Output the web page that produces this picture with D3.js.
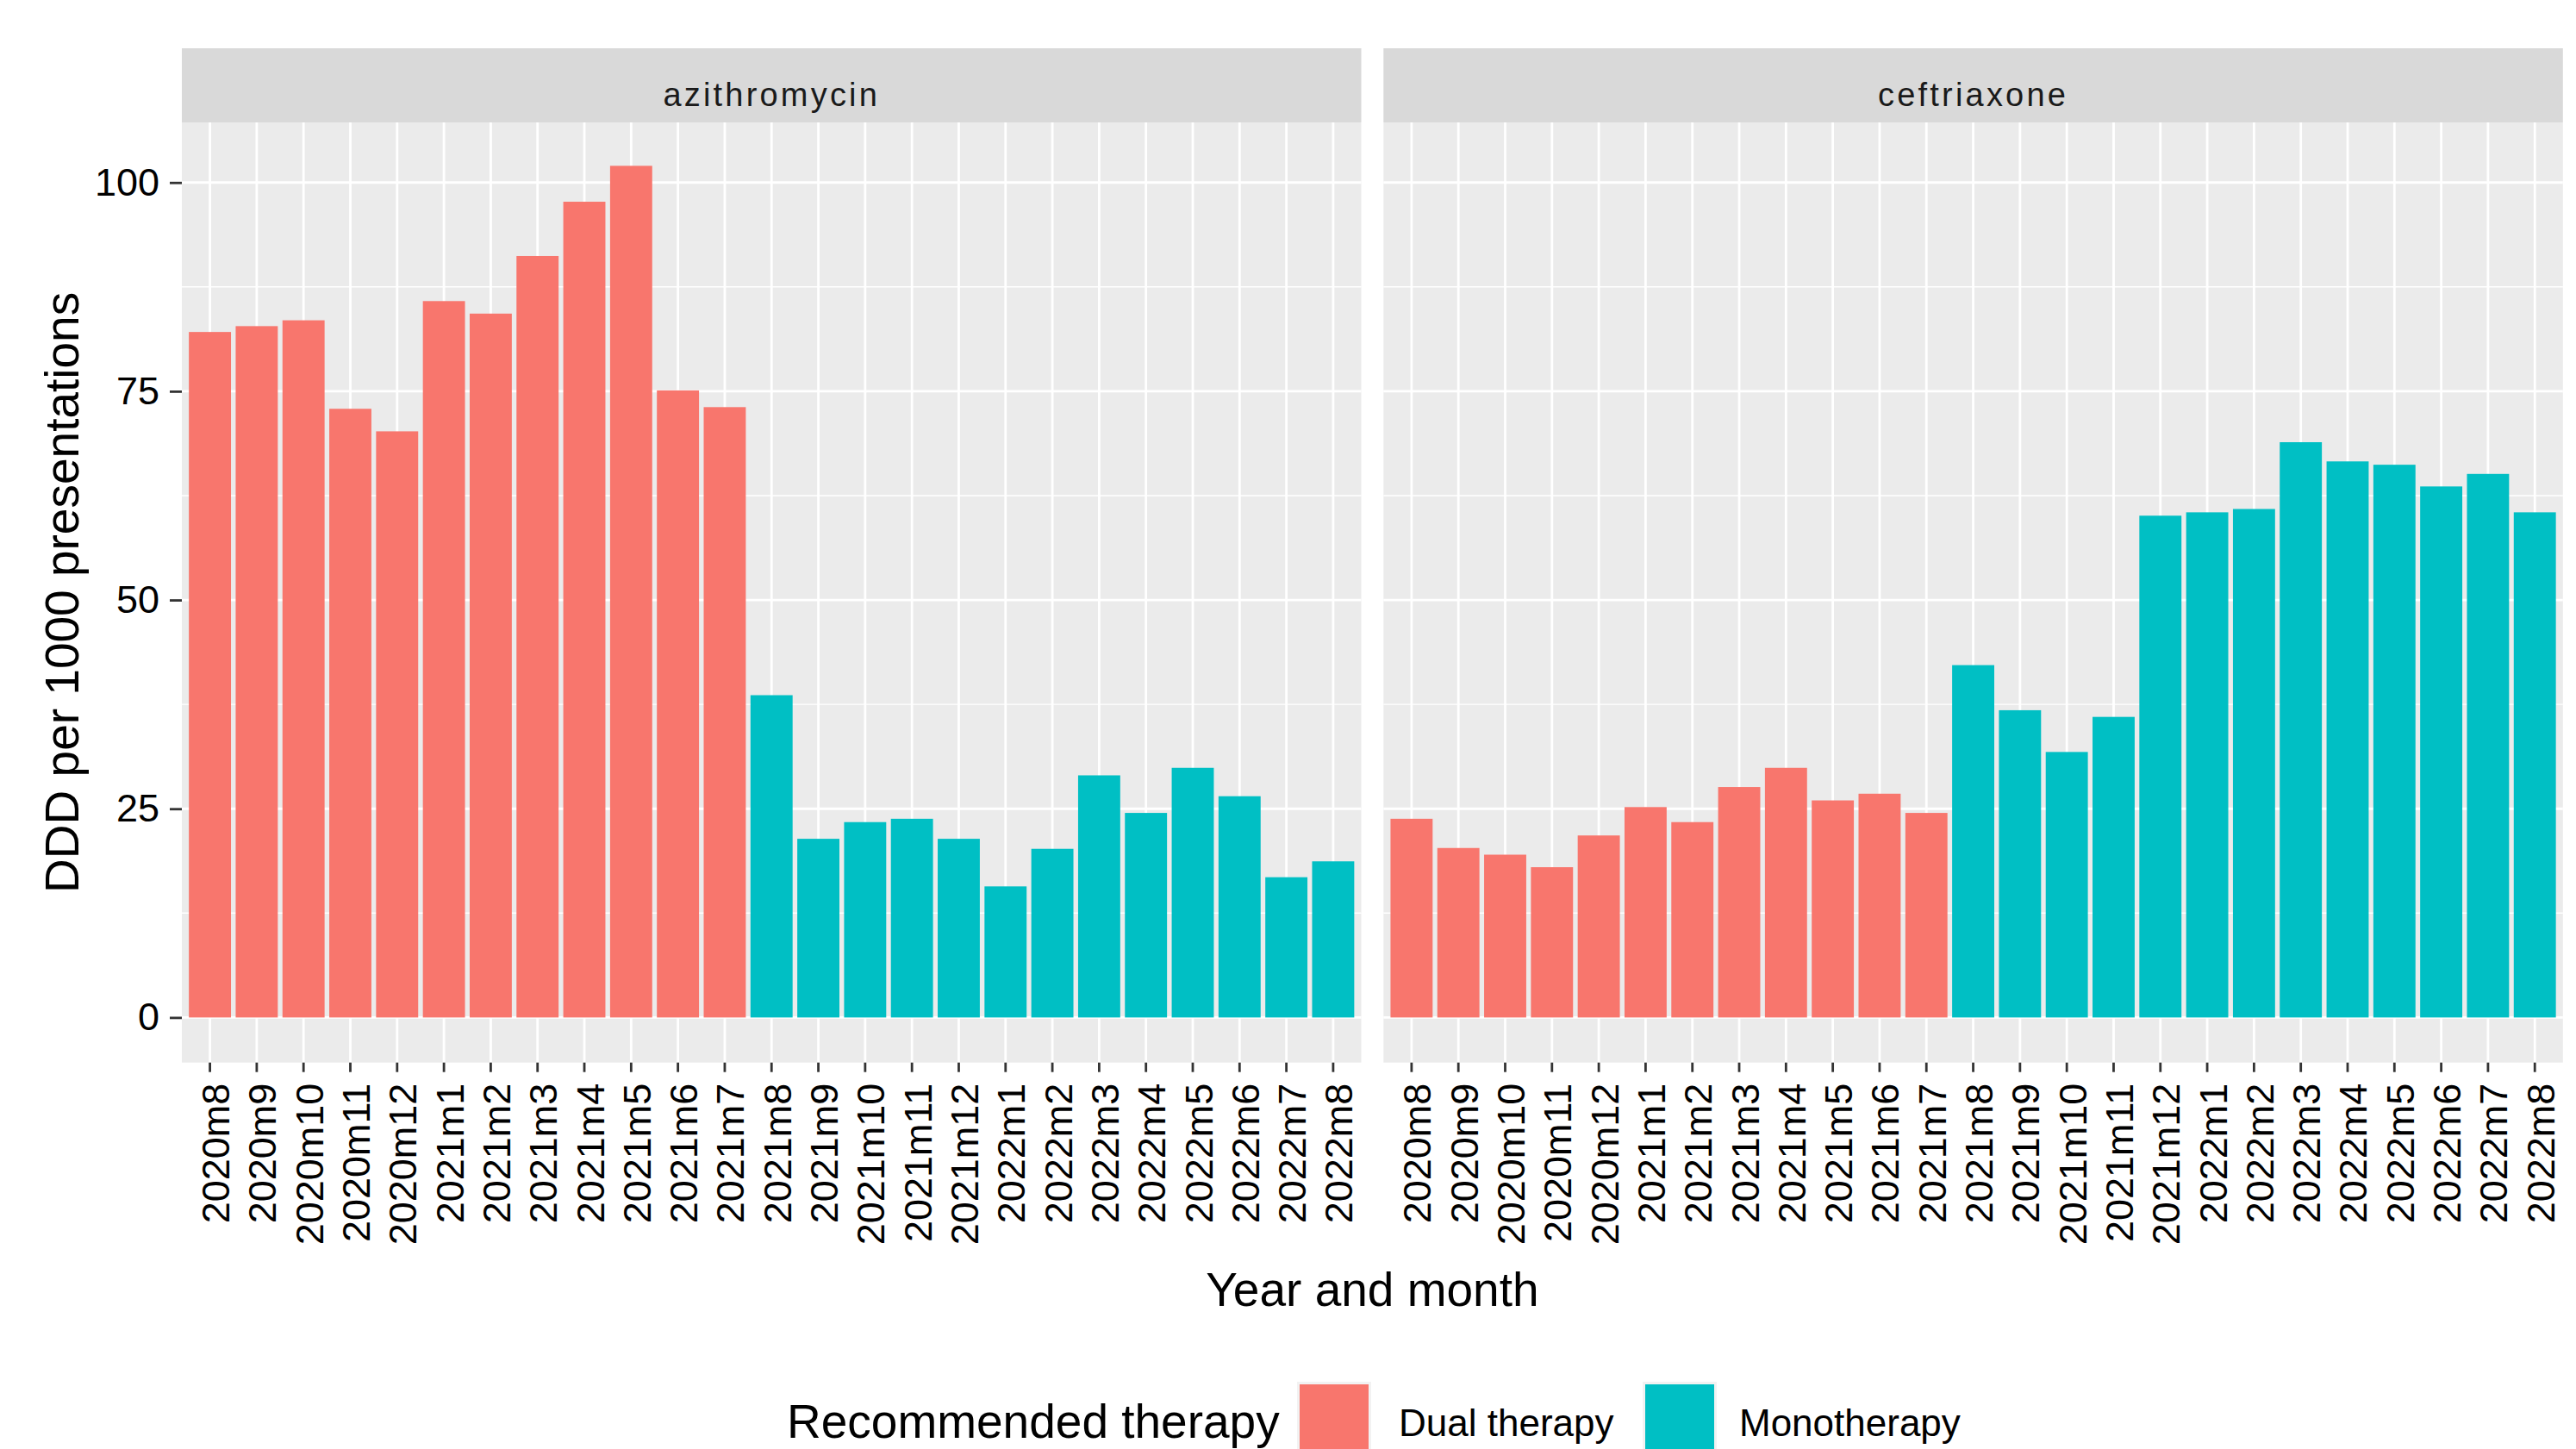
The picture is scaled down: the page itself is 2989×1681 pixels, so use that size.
<!DOCTYPE html>
<html>
<head>
<meta charset="utf-8">
<script src="https://cdn.jsdelivr.net/npm/d3@7"></script>
<style>
  html, body { margin: 0; padding: 0; background: #fff; }
  svg { display: block; }
  text { font-family: "Liberation Sans", Arial, Helvetica, sans-serif; }
</style>
</head>
<body>
<script>
// ---------------- data ----------------
const categories = ["2020m8","2020m9","2020m10","2020m11","2020m12","2021m1","2021m2","2021m3","2021m4","2021m5","2021m6","2021m7","2021m8","2021m9","2021m10","2021m11","2021m12","2022m1","2022m2","2022m3","2022m4","2022m5","2022m6","2022m7","2022m8"];
const panels = ["azithromycin", "ceftriaxone"];
const azithromycinValues = [82.1, 82.8, 83.5, 72.9, 70.2, 85.8, 84.3, 91.2, 97.7, 102.0, 75.1, 73.1, 38.6, 21.4, 23.4, 23.8, 21.4, 15.7, 20.2, 29.0, 24.5, 29.9, 26.5, 16.8, 18.7];
const ceftriaxoneValues = [23.8, 20.3, 19.5, 18.0, 21.8, 25.2, 23.4, 27.6, 29.9, 26.0, 26.8, 24.5, 42.2, 36.8, 31.8, 36.0, 60.1, 60.5, 60.9, 68.9, 66.6, 66.2, 63.6, 65.1, 60.5];
const azithromycinTherapy = ["Dual therapy","Dual therapy","Dual therapy","Dual therapy","Dual therapy","Dual therapy","Dual therapy","Dual therapy","Dual therapy","Dual therapy","Dual therapy","Dual therapy","Monotherapy","Monotherapy","Monotherapy","Monotherapy","Monotherapy","Monotherapy","Monotherapy","Monotherapy","Monotherapy","Monotherapy","Monotherapy","Monotherapy","Monotherapy"];
const ceftriaxoneTherapy = ["Dual therapy","Dual therapy","Dual therapy","Dual therapy","Dual therapy","Dual therapy","Dual therapy","Dual therapy","Dual therapy","Dual therapy","Dual therapy","Dual therapy","Monotherapy","Monotherapy","Monotherapy","Monotherapy","Monotherapy","Monotherapy","Monotherapy","Monotherapy","Monotherapy","Monotherapy","Monotherapy","Monotherapy","Monotherapy"];
const therapies = ["Dual therapy", "Monotherapy"];
const therapyColors = ["#F8766D", "#00BFC4"];
const yTicks = [0, 25, 50, 75, 100];
const yMinorTicks = [12.5, 37.5, 62.5, 87.5];
const yTitle = "DDD per 1000 presentations";
const xTitle = "Year and month";
const legendTitle = "Recommended therapy";

// ---------------- layout ----------------
const W = 2989, H = 1681;
const panelTop = 142, panelBottom = 1232.7;
const stripTop = 56;
const panelLefts = [211, 1605.3];
const panelWidth = 1368.5;
const yDomain = [-5.4, 107.2];

const svg = d3.select("body").append("svg")
  .attr("width", W).attr("height", H);

const y = d3.scaleLinear().domain(yDomain).range([panelBottom, panelTop]);
const color = d3.scaleOrdinal().domain(therapies).range(therapyColors);

const panelData = [
  { name: panels[0], values: azithromycinValues, therapy: azithromycinTherapy },
  { name: panels[1], values: ceftriaxoneValues, therapy: ceftriaxoneTherapy }
];

panelData.forEach((p, pi) => {
  const x0 = panelLefts[pi];
  const x = d3.scaleBand().domain(categories)
    .range([x0, x0 + panelWidth])
    .paddingInner(0.1).paddingOuter(0.15).align(0.5);
  const g = svg.append("g");

  // panel background
  g.append("rect").attr("x", x0).attr("y", panelTop)
    .attr("width", panelWidth).attr("height", panelBottom - panelTop)
    .attr("fill", "#EBEBEB");

  // minor horizontal grid
  g.selectAll(".minor").data(yMinorTicks).enter().append("line")
    .attr("x1", x0).attr("x2", x0 + panelWidth)
    .attr("y1", d => y(d)).attr("y2", d => y(d))
    .attr("stroke", "#fff").attr("stroke-width", 1.4);
  // major horizontal grid
  g.selectAll(".major").data(yTicks).enter().append("line")
    .attr("x1", x0).attr("x2", x0 + panelWidth)
    .attr("y1", d => y(d)).attr("y2", d => y(d))
    .attr("stroke", "#fff").attr("stroke-width", 2.8);
  // vertical grid
  g.selectAll(".vgrid").data(categories).enter().append("line")
    .attr("x1", d => x(d) + x.bandwidth() / 2).attr("x2", d => x(d) + x.bandwidth() / 2)
    .attr("y1", panelTop).attr("y2", panelBottom)
    .attr("stroke", "#fff").attr("stroke-width", 2.8);

  // bars
  g.selectAll(".bar").data(categories.map((c, i) => ({ c, v: p.values[i], t: p.therapy[i] })))
    .enter().append("rect")
    .attr("x", d => x(d.c))
    .attr("width", x.bandwidth())
    .attr("y", d => y(d.v))
    .attr("height", d => y(0) - y(d.v))
    .attr("fill", d => color(d.t));

  // strip
  g.append("rect").attr("x", x0).attr("y", stripTop)
    .attr("width", panelWidth).attr("height", panelTop - stripTop)
    .attr("fill", "#D9D9D9");
  g.append("text").attr("x", x0 + panelWidth / 2).attr("y", 123)
    .attr("text-anchor", "middle").attr("font-size", 38)
    .attr("letter-spacing", 3.2)
    .attr("fill", "#1A1A1A").text(p.name);

  // x axis
  const xAxis = d3.axisBottom(x).tickSizeOuter(0).tickSizeInner(11).tickPadding(0);
  const ax = svg.append("g").attr("transform", `translate(0,${panelBottom})`).call(xAxis);
  ax.select(".domain").remove();
  ax.selectAll(".tick line").attr("stroke", "#333").attr("stroke-width", 2.8);
  ax.selectAll(".tick text")
    .attr("font-size", 45).attr("fill", "#000")
    .attr("font-family", "Liberation Sans, Arial, sans-serif")
    .attr("text-anchor", "end")
    .attr("transform", "translate(0,24) rotate(-90)")
    .attr("x", 0).attr("y", 0).attr("dy", "0.5em");

  // y axis only on first panel
  if (pi === 0) {
    const yAxis = d3.axisLeft(y).tickValues(yTicks).tickSizeOuter(0).tickSizeInner(14).tickPadding(12);
    const ay = svg.append("g").attr("transform", `translate(${x0},0)`).call(yAxis);
    ay.select(".domain").remove();
    ay.selectAll(".tick line").attr("stroke", "#333").attr("stroke-width", 2.8);
    ay.selectAll(".tick text").attr("font-size", 45).attr("fill", "#000")
      .attr("font-family", "Liberation Sans, Arial, sans-serif");
  }
});

// axis titles
svg.append("text")
  .attr("transform", `translate(91,${(panelTop + panelBottom) / 2}) rotate(-90)`)
  .attr("text-anchor", "middle").attr("font-size", 55).attr("fill", "#000")
  .text(yTitle);
svg.append("text")
  .attr("x", (panelLefts[0] + panelLefts[1] + panelWidth) / 2).attr("y", 1515)
  .attr("text-anchor", "middle").attr("font-size", 55).attr("fill", "#000")
  .text(xTitle);

// legend
const legend = svg.append("g");
legend.append("text").attr("x", 913).attr("y", 1668)
  .attr("font-size", 55).attr("fill", "#000").text(legendTitle);
const keyX = [1505, 1906];
const labelX = [1623, 2018];
therapies.forEach((t, i) => {
  legend.append("rect").attr("x", keyX[i]).attr("y", 1603)
    .attr("width", 86).attr("height", 86).attr("fill", "#F2F2F2");
  legend.append("rect").attr("x", keyX[i] + 3).attr("y", 1606)
    .attr("width", 80).attr("height", 80).attr("fill", color(t));
  legend.append("text").attr("x", labelX[i]).attr("y", 1666)
    .attr("font-size", 44).attr("fill", "#000").text(t);
});
</script>
</body>
</html>
